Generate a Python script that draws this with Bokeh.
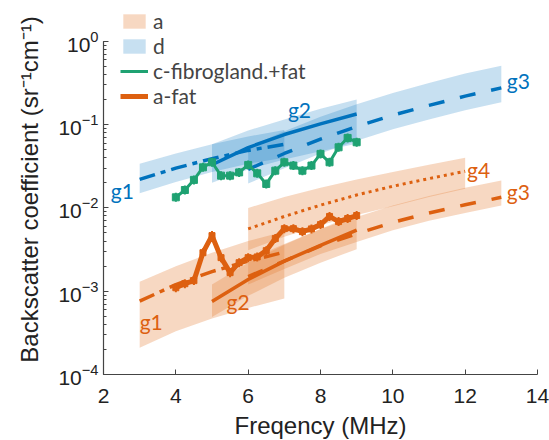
import math
from bokeh.plotting import figure
from bokeh.models import Legend, LegendItem, ColumnDataSource, FixedTicker, LogTicker
from bokeh.core.properties import value
from bokeh.embed import file_html
from bokeh.resources import INLINE

# ---------------- data ----------------
# literature "d" (fibroglandular) bands, blue
d_g1_f = [3, 4, 5, 6, 7]
d_g1_mid = [0.022, 0.030, 0.039, 0.049, 0.058]
d_g1_hi = [0.034, 0.045, 0.058, 0.072, 0.086]
d_g1_lo = [0.0150, 0.0205, 0.027, 0.034, 0.040]

d_g2_f = [5, 6, 7, 8, 9]
d_g2_mid = [0.033, 0.053, 0.076, 0.102, 0.134]
d_g2_hi = [0.058, 0.085, 0.115, 0.155, 0.200]
d_g2_lo = [0.020, 0.029, 0.038, 0.048, 0.059]

d_g3_f = [6, 7, 8, 9, 10, 11, 12, 13]
d_g3_mid = [0.029, 0.045, 0.067, 0.095, 0.130, 0.170, 0.220, 0.276]
d_g3_hi = [0.054, 0.083, 0.124, 0.176, 0.240, 0.315, 0.410, 0.510]
d_g3_lo = [0.0196, 0.030, 0.045, 0.064, 0.088, 0.115, 0.149, 0.186]

# literature "a" (fat) bands, orange
a_g1_f = [3, 4, 5, 6, 7]
a_g1_mid = [7.6e-4, 1.2e-3, 1.72e-3, 2.3e-3, 2.94e-3]
a_g1_hi = [1.3e-3, 2.0e-3, 2.9e-3, 4.0e-3, 5.2e-3]
a_g1_lo = [2.1e-4, 3.3e-4, 4.7e-4, 6.3e-4, 8.2e-4]

a_g2_f = [5, 6, 7, 8, 9]
a_g2_mid = [7.5e-4, 1.38e-3, 2.3e-3, 3.55e-3, 5.4e-3]
a_g2_hi = [1.2e-3, 2.2e-3, 3.6e-3, 5.6e-3, 8.5e-3]
a_g2_lo = [4.9e-4, 8.8e-4, 1.45e-3, 2.2e-3, 3.2e-3]

a_g3_f = [6, 7, 8, 9, 10, 11, 12, 13]
a_g3_mid = [0.0015, 0.0023, 0.0035, 0.0049, 0.0067, 0.0087, 0.0109, 0.0134]
a_g3_hi = [0.0024, 0.0037, 0.0056, 0.0078, 0.0107, 0.0139, 0.0174, 0.0213]
a_g3_lo = [0.0012, 0.00185, 0.0028, 0.0039, 0.0054, 0.0070, 0.0087, 0.0107]

a_g4_f = [6, 7, 8, 9, 10, 11, 12]
a_g4_mid = [0.0056, 0.0079, 0.0108, 0.0143, 0.0182, 0.0225, 0.0275]
a_g4_hi = [0.0100, 0.0135, 0.0175, 0.022, 0.027, 0.033, 0.040]
a_g4_lo = [0.0031, 0.0045, 0.0062, 0.0082, 0.0105, 0.0135, 0.017]

# measured series
meas_f = [4.0, 4.25, 4.5, 4.75, 5.0, 5.25, 5.5, 5.75, 6.0, 6.25, 6.5,
          6.75, 7.0, 7.25, 7.5, 7.75, 8.0, 8.25, 8.5, 8.75, 9.0]
fibro_fat = [0.0134, 0.0164, 0.0217, 0.0307, 0.0353, 0.0244, 0.0244, 0.0267,
             0.0328, 0.0260, 0.0194, 0.0280, 0.0353, 0.0322, 0.0280, 0.0322,
             0.0445, 0.0353, 0.0534, 0.0692, 0.0614]
fat = [1.10e-3, 1.23e-3, 1.34e-3, 2.9e-3, 4.65e-3, 2.53e-3, 1.67e-3, 2.2e-3,
       2.53e-3, 2.58e-3, 3.07e-3, 4.28e-3, 5.64e-3, 5.64e-3, 5.19e-3, 5.6e-3,
       6.3e-3, 7.9e-3, 6.85e-3, 7.45e-3, 8.1e-3]

# curve labels
lab_text = ["g1", "g2", "g3", "g1", "g2", "g3", "g4"]
lab_x = [2.2, 7.1, 13.15, 3.0, 5.4, 13.15, 12.05]
lab_y = [0.016, 0.150, 0.34, 4.3e-4, 7.6e-4, 0.0158, 0.029]
lab_group = ["d", "d", "d", "a", "a", "a", "a"]

x_ticks = [2, 4, 6, 8, 10, 12, 14]
y_axis_span = (1e-4, 1)

# ---------------- style ----------------
BLUE = "#0072BD"
ORANGE = "#DD6010"
GREEN = "#1FA272"
BLUE_FILL = "#0072BD"
ORANGE_FILL = "#E67E35"
FONT = "Liberation Sans"
GFONT = "Lato"

# frame extends a little above 10^0 so that the legend can sit there;
# the drawn y axis is bounded to 1e-4 .. 1
p = figure(x_range=(2, 14), y_range=(1e-4, 10 ** 0.442),
           y_axis_type="log", output_backend="svg", toolbar_location=None,
           min_border_left=103, min_border_right=12, min_border_top=4,
           min_border_bottom=66, frame_width=434, frame_height=370)
p.outline_line_color = None
p.grid.visible = False
p.background_fill_color = "white"

def band(f, lo, hi, color, alpha):
    return p.varea(x=f, y1=lo, y2=hi, fill_color=color, fill_alpha=alpha)

r_a = band(a_g1_f, a_g1_lo, a_g1_hi, ORANGE_FILL, 0.3)
band(a_g2_f, a_g2_lo, a_g2_hi, ORANGE_FILL, 0.3)
band(a_g3_f, a_g3_lo, a_g3_hi, ORANGE_FILL, 0.3)
band(a_g4_f, a_g4_lo, a_g4_hi, ORANGE_FILL, 0.3)
r_d = band(d_g1_f, d_g1_lo, d_g1_hi, BLUE_FILL, 0.22)
band(d_g2_f, d_g2_lo, d_g2_hi, BLUE_FILL, 0.22)
band(d_g3_f, d_g3_lo, d_g3_hi, BLUE_FILL, 0.22)

p.line(d_g1_f, d_g1_mid, line_color=BLUE, line_width=3.5, line_dash="16 6 5 6")
p.line(d_g2_f, d_g2_mid, line_color=BLUE, line_width=3.5)
p.line(d_g3_f, d_g3_mid, line_color=BLUE, line_width=3.5, line_dash="16 16")
p.line(a_g1_f, a_g1_mid, line_color=ORANGE, line_width=3.5, line_dash="16 6 5 6")
p.line(a_g2_f, a_g2_mid, line_color=ORANGE, line_width=3.5)
p.line(a_g3_f, a_g3_mid, line_color=ORANGE, line_width=3.5, line_dash="16 16")
p.line(a_g4_f, a_g4_mid, line_color=ORANGE, line_width=3, line_dash="3 4")

r_c = p.line(meas_f, fibro_fat, line_color=GREEN, line_width=3)
p.scatter(meas_f, fibro_fat, marker="square", size=7, fill_color=GREEN, line_color=GREEN)
r_cbar = p.scatter(meas_f, fibro_fat, marker="dash", angle=math.pi / 2, size=9,
                   line_color=GREEN, line_width=2)
r_f = p.line(meas_f, fat, line_color=ORANGE, line_width=5)
p.scatter(meas_f, fat, marker="square", size=6, fill_color=ORANGE, line_color=ORANGE)
r_fbar = p.scatter(meas_f, fat, marker="dash", angle=math.pi / 2, size=9,
                   line_color=ORANGE, line_width=2)

src = ColumnDataSource(dict(x=lab_x, y=lab_y, t=lab_text,
                            c=[BLUE if g == "d" else ORANGE for g in lab_group]))
p.text(x="x", y="y", text="t", source=src, text_color="c", text_font=value(GFONT),
       text_font_size="21px", text_align="left", text_baseline="middle")

# axes
p.xaxis.ticker = FixedTicker(ticks=x_ticks)
p.yaxis.ticker = LogTicker(num_minor_ticks=10)
p.yaxis.bounds = y_axis_span
for ax in (p.xaxis[0], p.yaxis[0]):
    ax.axis_line_color = "#444444"
    ax.axis_line_width = 1.2
    ax.major_tick_in = 5
    ax.major_tick_out = 0
    ax.minor_tick_in = 3
    ax.minor_tick_out = 0
    ax.major_tick_line_color = "#444444"
    ax.minor_tick_line_color = "#444444"
    ax.major_label_text_font = FONT
    ax.major_label_text_font_size = "21px"
    ax.major_label_text_color = "#222222"
    ax.axis_label_text_font = FONT
    ax.axis_label_text_font_size = "24px"
    ax.axis_label_text_font_style = "normal"
    ax.axis_label_text_color = "#222222"
p.xaxis.minor_tick_in = 0
p.xaxis.axis_label = "Freqency (MHz)"
p.yaxis.axis_label = "Backscatter coefficient (sr\u207b\u00b9cm\u207b\u00b9)"
p.xaxis.major_label_standoff = 14
p.xaxis.axis_label_standoff = 6
p.yaxis.axis_label_standoff = 12

legend = Legend(items=[
    LegendItem(label="a", renderers=[r_a]),
    LegendItem(label="d", renderers=[r_d]),
    LegendItem(label="c-fibrogland.+fat", renderers=[r_c, r_cbar]),
    LegendItem(label="a-fat", renderers=[r_f, r_fbar]),
], location=(17, 266))
legend.background_fill_alpha = 0
legend.border_line_color = None
legend.label_text_font = GFONT
legend.label_text_font_size = "21px"
legend.glyph_width = 28
legend.glyph_height = 18
legend.spacing = 0
legend.padding = 0
legend.margin = 0
legend.label_standoff = 5
p.add_layout(legend)

open("out.html", "w").write(file_html(p, INLINE))
